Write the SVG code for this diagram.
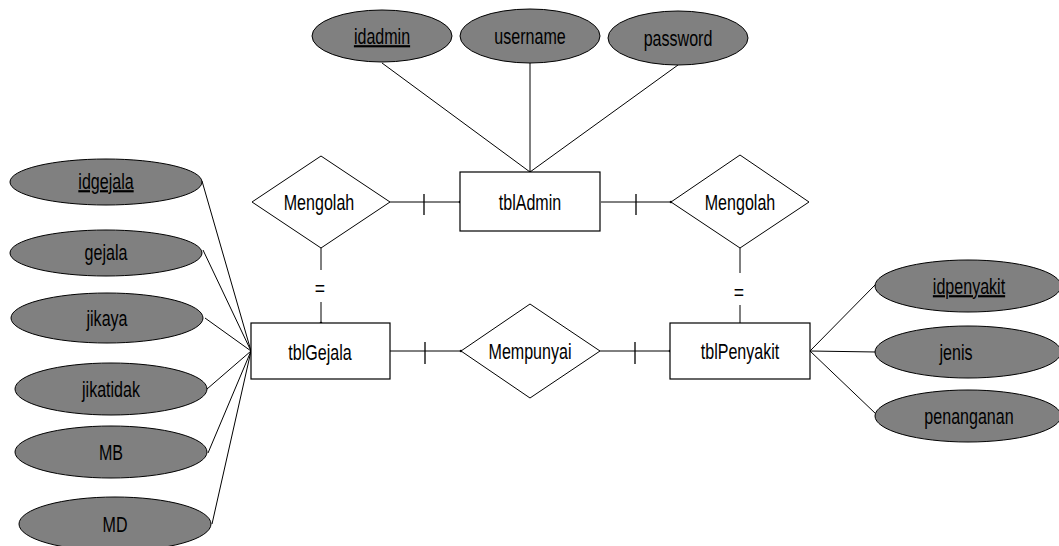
<svg xmlns="http://www.w3.org/2000/svg" width="1059" height="546" viewBox="0 0 1059 546">
<style>
.attr{fill:#808080;stroke:#000;stroke-width:1}
.ent{fill:#fff;stroke:#000;stroke-width:1.2}
.rel{fill:#fff;stroke:#000;stroke-width:1}
.ln{stroke:#000;stroke-width:1;fill:none}
.tk{stroke:#000;stroke-width:1.3;fill:none}
text{font-family:"Liberation Sans",Arial,sans-serif;font-size:22px;fill:#000;text-anchor:middle}
.u{text-decoration:underline}
</style>
<rect width="1059" height="546" fill="#fff"/>
<g id="connectors">
<line class="ln" x1="382" y1="63" x2="530" y2="172"/>
<line class="ln" x1="530" y1="63" x2="530" y2="172"/>
<line class="ln" x1="678" y1="65" x2="530" y2="172"/>
<line class="ln" x1="390" y1="202" x2="460" y2="202"/>
<line class="tk" x1="424" y1="194" x2="424" y2="215"/>
<line class="ln" x1="601" y1="202" x2="671" y2="202"/>
<line class="tk" x1="636" y1="194" x2="636" y2="215"/>
<line class="ln" x1="390" y1="351" x2="461" y2="351"/>
<line class="tk" x1="425" y1="342" x2="425" y2="364"/>
<line class="ln" x1="600" y1="351" x2="670" y2="351"/>
<line class="tk" x1="635" y1="342" x2="635" y2="364"/>
<line class="ln" x1="321" y1="248" x2="321" y2="270"/>
<line class="ln" x1="321" y1="302" x2="321" y2="323"/>
<text transform="translate(320,296) scale(0.8,1)">=</text>
<line class="ln" x1="740" y1="248" x2="740" y2="273"/>
<line class="ln" x1="740" y1="305" x2="740" y2="323"/>
<text transform="translate(739,300) scale(0.8,1)">=</text>
<line class="ln" x1="202" y1="181" x2="251" y2="351"/>
<line class="ln" x1="203" y1="250" x2="251" y2="351"/>
<line class="ln" x1="205" y1="318" x2="251" y2="351"/>
<line class="ln" x1="207" y1="389" x2="251" y2="351"/>
<line class="ln" x1="208" y1="453" x2="251" y2="351"/>
<line class="ln" x1="212" y1="524" x2="251" y2="351"/>
<line class="ln" x1="810" y1="351" x2="876" y2="284"/>
<line class="ln" x1="810" y1="351" x2="876" y2="352"/>
<line class="ln" x1="810" y1="351" x2="876" y2="414"/>
<circle cx="460" cy="202" r="1.3"/>
<circle cx="671" cy="202" r="1.3"/>
<circle cx="461" cy="351" r="1.3"/>
<circle cx="670" cy="351" r="1.3"/>
<circle cx="321" cy="323" r="1.3"/>
<circle cx="530" cy="172" r="1.3"/>
</g>
<g id="idadmin"><ellipse class="attr" cx="382" cy="36" rx="70" ry="26"/><text class="u" transform="translate(382,44) scale(0.73,1)">idadmin</text></g>
<g id="username"><ellipse class="attr" cx="530" cy="36" rx="70" ry="27"/><text transform="translate(530,44) scale(0.73,1)">username</text></g>
<g id="password"><ellipse class="attr" cx="678" cy="38" rx="70" ry="27"/><text transform="translate(678,46) scale(0.73,1)">password</text></g>
<g id="tblAdmin"><rect class="ent" x="460" y="172" width="140" height="59"/><text transform="translate(530,210) scale(0.73,1)">tblAdmin</text></g>
<g id="mengolah1"><polygon class="rel" points="252,202 321,156 390,202 321,248"/><text transform="translate(319,210) scale(0.73,1)">Mengolah</text></g>
<g id="mengolah2"><polygon class="rel" points="671,202 740,155 809,202 740,248"/><text transform="translate(740,210) scale(0.73,1)">Mengolah</text></g>
<g id="tblGejala"><rect class="ent" x="251" y="323" width="139" height="56"/><text transform="translate(320,360) scale(0.73,1)">tblGejala</text></g>
<g id="mempunyai"><polygon class="rel" points="461,351 530,304 600,351 530,398"/><text transform="translate(530,359) scale(0.73,1)">Mempunyai</text></g>
<g id="tblPenyakit"><rect class="ent" x="670" y="323" width="140" height="56"/><text transform="translate(740,359) scale(0.73,1)">tblPenyakit</text></g>
<g id="idgejala"><ellipse class="attr" cx="106" cy="182" rx="96" ry="23"/><text class="u" transform="translate(106,189) scale(0.73,1)">idgejala</text></g>
<g id="gejala"><ellipse class="attr" cx="106" cy="253" rx="96" ry="23"/><text transform="translate(106,260) scale(0.73,1)">gejala</text></g>
<g id="jikaya"><ellipse class="attr" cx="107" cy="318" rx="96" ry="25"/><text transform="translate(107,326) scale(0.73,1)">jikaya</text></g>
<g id="jikatidak"><ellipse class="attr" cx="111" cy="389" rx="96" ry="26"/><text transform="translate(111,397) scale(0.73,1)">jikatidak</text></g>
<g id="MB"><ellipse class="attr" cx="111" cy="452" rx="96" ry="26"/><text transform="translate(111,460) scale(0.73,1)">MB</text></g>
<g id="MD"><ellipse class="attr" cx="115" cy="524" rx="96" ry="27"/><text transform="translate(115,532) scale(0.73,1)">MD</text></g>
<g id="idpenyakit"><ellipse class="attr" cx="968" cy="286" rx="93" ry="26"/><text class="u" transform="translate(969,294) scale(0.73,1)">idpenyakit</text></g>
<g id="jenis"><ellipse class="attr" cx="968" cy="352" rx="93" ry="26"/><text transform="translate(956,360) scale(0.73,1)">jenis</text></g>
<g id="penanganan"><ellipse class="attr" cx="968" cy="416" rx="93" ry="26"/><text transform="translate(969,424) scale(0.73,1)">penanganan</text></g>
</svg>
